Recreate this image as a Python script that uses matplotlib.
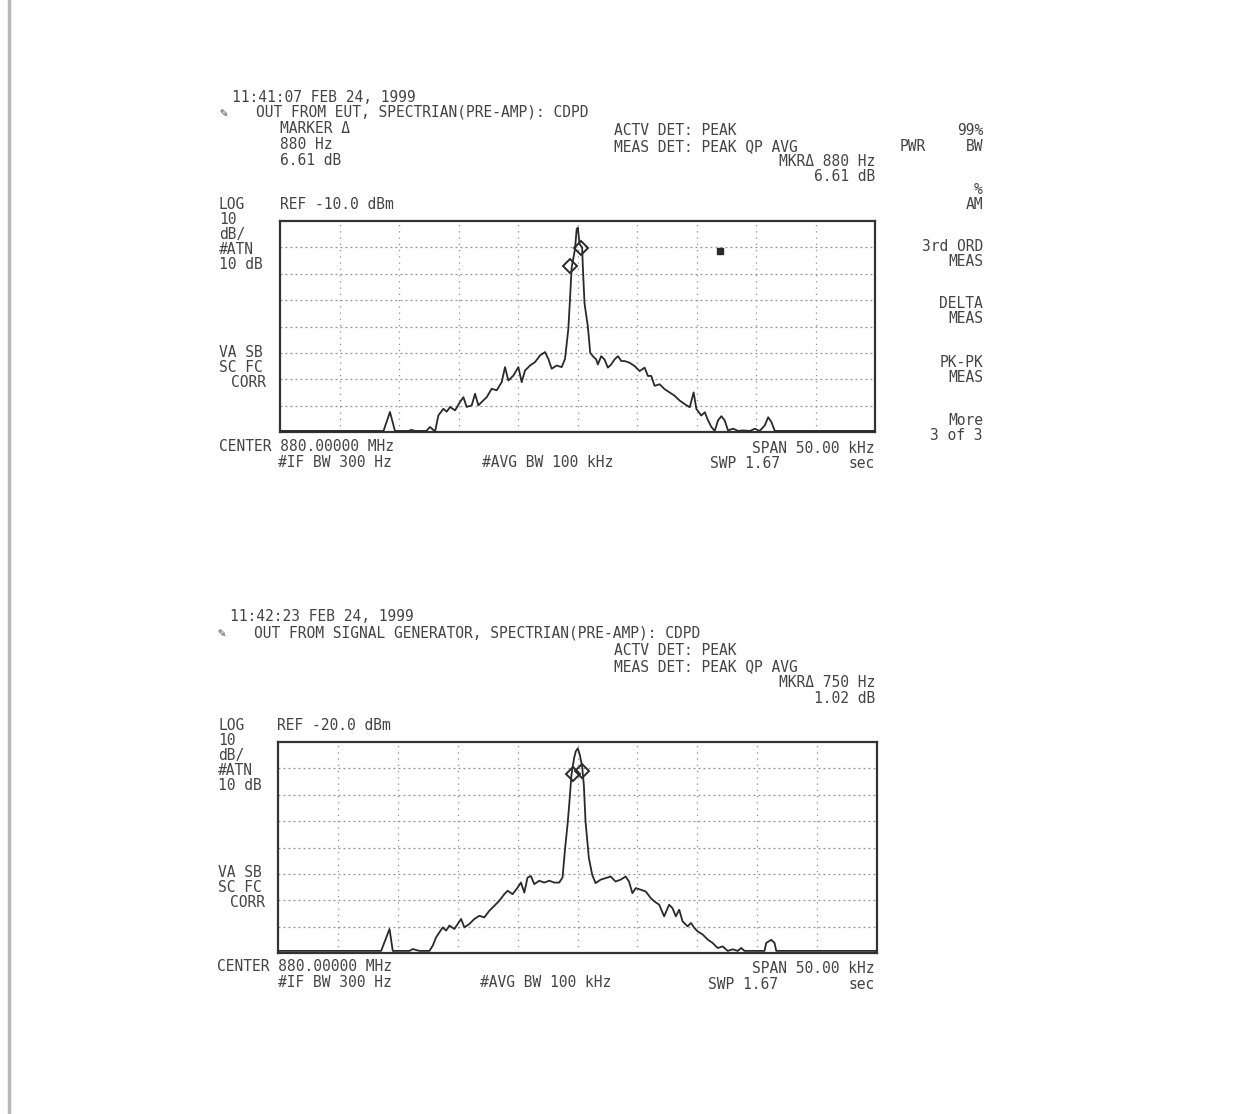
import matplotlib
matplotlib.use("Agg")
import matplotlib.pyplot as plt
from matplotlib.lines import Line2D

W, H = 1254, 1114
fig = plt.figure(figsize=(W / 100, H / 100), dpi=100)
fig.patch.set_facecolor("white")

# ---------------- data ----------------
span_khz = [-25, 25]
top_ref_dbm = -10.0
bot_ref_dbm = -20.0
db_per_div = 10
n_ydiv = 8
n_xdiv = 10

top_freq = [-25, -16.3, -15.76, -15.34, -14.2, -13.94, -13.66, -12.7, -12.4, -11.97, -11.69,
            -11.27, -10.99, -10.71, -10.29, -9.87, -9.59, -9.31, -8.89, -8.61, -8.33, -8.05,
            -7.63, -7.21, -6.79, -6.37, -6.09, -5.81, -5.39, -4.97, -4.69, -4.41, -3.99, -3.57,
            -3.15, -2.73, -2.45, -2.17, -1.75, -1.33, -1.05, -0.77, -0.63, -0.49, -0.21, -0.07,
            0.03, 0.17, 0.39, 0.45, 0.59, 0.87, 1.07, 1.29, 1.57, 1.71, 1.99, 2.27, 2.55, 2.83,
            3.11, 3.4, 3.68, 3.96, 4.38, 4.8, 5.22, 5.64, 5.92, 6.2, 6.48, 6.9, 7.32, 7.74, 8.16,
            8.59, 9.0, 9.43, 9.76, 9.99, 10.4, 10.7, 10.97, 11.25, 11.53, 11.81, 12.09, 12.37,
            12.65, 13.08, 13.5, 13.9, 14.5, 14.9, 15.3, 15.74, 16.02, 16.3, 16.58, 25]
top_level = [-89.6, -89.6, -82.4, -89.6, -89.6, -89.2, -89.6, -89.6, -88.1, -89.8, -83.7,
             -81.2, -82.3, -80.5, -81.8, -78.6, -76.8, -80.5, -79.9, -75.5, -79.9, -78.6,
             -76.8, -73.6, -74.2, -71.1, -65.4, -70.5, -68.6, -65.4, -71.1, -66.7, -64.8, -63.5,
             -61.0, -59.7, -62.3, -66.0, -64.8, -65.4, -62.3, -50.9, -39.6, -27.6, -20.7, -13.1,
             -12.5, -18.75, -20.0, -27.5, -41.25, -50.0, -60.0, -61.25, -62.5, -64.4, -61.25,
             -62.5, -65.6, -64.4, -62.5, -61.25, -63.1, -63.1, -63.75, -65.0, -66.9, -65.6,
             -68.75, -68.75, -72.5, -71.9, -73.75, -75.0, -76.25, -78.1, -79.4, -80.6, -75.0,
             -81.25, -83.75, -82.5, -85.6, -88.1, -89.6, -85.6, -84.0, -85.6, -89.4, -88.75,
             -89.6, -89.4, -89.6, -88.75, -89.6, -87.5, -84.4, -86.25, -89.6, -89.6]
top_markers_freq = [-0.6, 0.28]
top_markers_level = [-27.0, -20.4]
top_dl_freq = [11.95]
top_dl_level = [-21.2]

bot_freq = [-25, -16.39, -15.69, -15.42, -14.03, -13.75, -13.2, -12.36, -12.08, -11.81, -11.53,
            -11.25, -10.97, -10.69, -10.28, -10.0, -9.72, -9.44, -9.03, -8.61, -8.19, -7.78,
            -7.36, -6.94, -6.53, -6.11, -5.83, -5.42, -5.0, -4.72, -4.44, -4.17, -3.89, -3.61,
            -3.19, -2.78, -2.36, -1.94, -1.53, -1.25, -1.03, -0.83, -0.69, -0.5, -0.28, -0.14,
            0.03, 0.2, 0.39, 0.53, 0.67, 0.95, 1.23, 1.51, 1.93, 2.35, 2.77, 3.18, 3.6, 4.02,
            4.3, 4.58, 4.86, 5.28, 5.7, 6.12, 6.4, 6.82, 7.23, 7.65, 7.93, 8.21, 8.49, 8.77,
            9.19, 9.47, 9.75, 10.03, 10.45, 10.87, 11.28, 11.7, 12.12, 12.54, 12.96, 13.38,
            13.66, 13.94, 15.61, 15.75, 16.17, 16.45, 16.59, 25]
bot_level = [-99.2, -99.2, -90.9, -99.2, -99.2, -98.5, -99.2, -99.2, -97.2, -94.1, -92.2,
             -90.3, -91.5, -89.6, -90.9, -89.0, -87.1, -90.3, -89.0, -87.1, -85.9, -86.5,
             -84.0, -82.1, -80.2, -77.7, -76.4, -77.7, -75.2, -73.3, -77.1, -71.4, -70.8, -73.9,
             -72.6, -73.3, -72.6, -73.3, -73.3, -71.4, -60.1, -51.2, -43.7, -32.3, -26.0, -23.5,
             -22.4, -25.0, -29.4, -36.3, -50.2, -64.0, -70.4, -73.5, -72.2, -71.6, -71.0, -72.9,
             -72.2, -71.0, -72.9, -77.3, -75.4, -76.0, -76.7, -79.2, -80.4, -81.7, -86.1, -81.7,
             -83.0, -86.1, -83.6, -88.0, -89.9, -88.6, -90.5, -91.8, -93.0, -94.9, -96.2, -98.1,
             -97.5, -99.2, -98.6, -99.2, -98.1, -99.2, -99.2, -96.2, -95.0, -96.2, -99.2, -99.2]
bot_markers_freq = [-0.35, 0.4]
bot_markers_level = [-32.0, -31.0]

# ---------------- helpers ----------------
INK = "#444444"
MONO = "DejaVu Sans Mono"
FS = 10.5


def fx(px):
    return px / W


def fy(py):
    return 1 - py / H


def txt(px, py, s, ha="left", fs=FS):
    """Place text so that the centre of its capitals sits at pixel row py."""
    em = fs * 100 / 72.0
    fig.text(fx(px), fy(py + 0.365 * em), s, ha=ha, va="baseline", family=MONO,
             fontsize=fs, color=INK)


def make_axes(left, top, right, bottom, ref):
    ax = fig.add_axes([fx(left), fy(bottom), fx(right) - fx(left), (bottom - top) / H])
    ax.set_xlim(span_khz)
    ax.set_ylim(ref - n_ydiv * db_per_div, ref)
    ax.set_xticks([])
    ax.set_yticks([])
    for s in ax.spines.values():
        s.set_color("#333333")
        s.set_linewidth(1.6)
    step_x = (span_khz[1] - span_khz[0]) / n_xdiv
    for i in range(1, n_xdiv):
        ax.axvline(span_khz[0] + i * step_x, color="#8f8f8f", lw=0.9,
                   ls=(0, (1, 4)), zorder=1)
    for j in range(1, n_ydiv):
        ax.axhline(ref - j * db_per_div, color="#8f8f8f", lw=0.9,
                   ls=(0, (1.5, 2.5)), zorder=1)
    return ax


# ---------------- top analyser screen ----------------
ax1 = make_axes(280, 221, 875, 432, top_ref_dbm)
ax1.plot(top_freq, top_level, color="#2a2a2a", lw=1.3, zorder=3)
ax1.plot(top_markers_freq, top_markers_level, ls="none", marker="D", ms=7,
         mfc="none", mec="#2a2a2a", mew=1.4, zorder=4)
ax1.plot(top_dl_freq, top_dl_level, ls="none", marker="s", ms=5,
         color="#2a2a2a", zorder=4)

txt(232, 96.5, "11:41:07 FEB 24, 1999")
txt(219, 111.5, "\u270e", fs=9.5)
txt(256, 111.5, "OUT FROM EUT, SPECTRIAN(PRE-AMP): CDPD")
txt(280, 128, "MARKER \u0394")
txt(280, 144, "880 Hz")
txt(280, 160, "6.61 dB")
txt(614, 130, "ACTV DET: PEAK")
txt(614, 146, "MEAS DET: PEAK QP AVG")
txt(983, 130, "99%", ha="right")
txt(900, 146, "PWR")
txt(983, 146, "BW", ha="right")
txt(875, 161, "MKR\u0394 880 Hz", ha="right")
txt(875, 176, "6.61 dB", ha="right")
txt(983, 189, "%", ha="right")
txt(983, 204, "AM", ha="right")
txt(219, 204, "LOG")
txt(280, 204, "REF -10.0 dBm")
for k, s in enumerate(["10", "dB/", "#ATN", "10 dB"]):
    txt(219, 219 + 15 * k, s)
txt(983, 246, "3rd ORD", ha="right")
txt(983, 261, "MEAS", ha="right")
txt(983, 303, "DELTA", ha="right")
txt(983, 318, "MEAS", ha="right")
txt(983, 362, "PK-PK", ha="right")
txt(983, 377, "MEAS", ha="right")
txt(983, 420, "More", ha="right")
txt(983, 435, "3 of 3", ha="right")
txt(219, 352, "VA SB")
txt(219, 367, "SC FC")
txt(231, 382, "CORR")
txt(219, 446, "CENTER 880.00000 MHz")
txt(278, 462, "#IF BW 300 Hz")
txt(482, 462, "#AVG BW 100 kHz")
txt(875, 448, "SPAN 50.00 kHz", ha="right")
txt(710, 463, "SWP 1.67")
txt(875, 463, "sec", ha="right")

# ---------------- bottom analyser screen ----------------
ax2 = make_axes(278, 742, 877, 953, bot_ref_dbm)
ax2.plot(bot_freq, bot_level, color="#2a2a2a", lw=1.3, zorder=3)
ax2.plot(bot_markers_freq, bot_markers_level, ls="none", marker="D", ms=7,
         mfc="none", mec="#2a2a2a", mew=1.4, zorder=4)

txt(230, 616, "11:42:23 FEB 24, 1999")
txt(217, 632, "\u270e", fs=9.5)
txt(254, 632, "OUT FROM SIGNAL GENERATOR, SPECTRIAN(PRE-AMP): CDPD")
txt(614, 650, "ACTV DET: PEAK")
txt(614, 666, "MEAS DET: PEAK QP AVG")
txt(875, 682, "MKR\u0394 750 Hz", ha="right")
txt(875, 698, "1.02 dB", ha="right")
txt(218, 725, "LOG")
txt(277, 725, "REF -20.0 dBm")
for k, s in enumerate(["10", "dB/", "#ATN", "10 dB"]):
    txt(218, 740 + 15 * k, s)
txt(218, 872, "VA SB")
txt(218, 887, "SC FC")
txt(230, 902, "CORR")
txt(217, 966, "CENTER 880.00000 MHz")
txt(278, 982, "#IF BW 300 Hz")
txt(480, 982, "#AVG BW 100 kHz")
txt(875, 968, "SPAN 50.00 kHz", ha="right")
txt(708, 984, "SWP 1.67")
txt(875, 984, "sec", ha="right")

# scanned page edge at the left
fig.add_artist(Line2D([fx(9), fx(9)], [0, 1], color="#b8b8b8", lw=2.5))

fig.savefig("out.png", dpi=100, facecolor="white")
